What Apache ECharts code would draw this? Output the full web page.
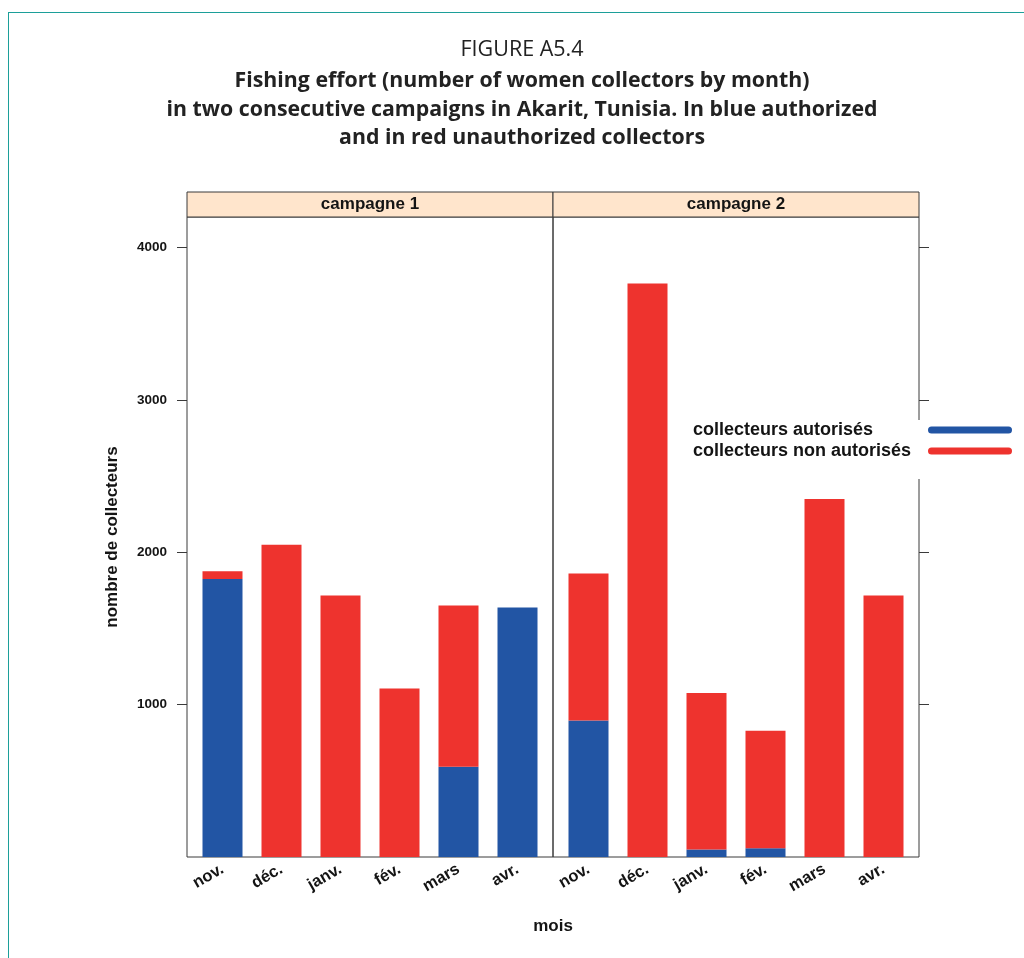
<!DOCTYPE html>
<html>
<head>
<meta charset="utf-8">
<title>Fishing effort – Akarit</title>
<script src="https://cdn.jsdelivr.net/npm/echarts@6/dist/echarts.min.js"></script>
<style>
  html, body { margin: 0; padding: 0; background: #fff; }
  #wrap { position: relative; width: 1024px; height: 958px; }
  #chart { position: absolute; left: 0; top: 0; width: 1024px; height: 958px; }
  /* page rule along the top and left edges */
  #rule { position: absolute; left: 8px; top: 12px; right: 0; bottom: 0;
          border-left: 1.5px solid #1c9f99; border-top: 1.5px solid #1c9f99;
          pointer-events: none; }
</style>
</head>
<body>
<div id="wrap">
  <div id="chart"></div>
  <div id="rule"></div>
</div>
<script>
// Monthly number of women collectors, two campaigns
const months = ['nov.', 'déc.', 'janv.', 'fév.', 'mars', 'avr.'];
const campaigns = ['campagne 1', 'campagne 2'];
const seriesNames = ['collecteurs autorisés', 'collecteurs non autorisés'];

const authorized1   = [1825,    0,    0,    0,  592, 1637];
const unauthorized1 = [  50, 2049, 1716, 1106, 1058,    0];
const authorized2   = [ 896,    0,   49,   58,    0,    0];
const unauthorized2 = [ 964, 3763, 1028,  770, 2350, 1716];

const yTicks = [1000, 2000, 3000, 4000];
const yMax = 4200;

const BLUE = '#2255A4';
const RED = '#EE332E';
const FONT = 'Liberation Sans';
const INK = '#141414';

// panel geometry (frame and inner category band)
const panelLeft = [187, 553];
const panelWidth = 366;
const innerInset = 6;
const plotTop = 217;
const plotHeight = 640;
const stripTop = 192;
const stripHeight = 25;

const grids = [];
const xAxes = [];
const yAxes = [];

// 0,1: panel frames carrying the y axes
panelLeft.forEach((l, i) => {
  grids.push({ left: l, top: plotTop, width: panelWidth, height: plotHeight,
               show: true, borderColor: '#3a3a3a', borderWidth: 1, backgroundColor: 'transparent' });
  xAxes.push({ gridIndex: grids.length - 1, type: 'value', min: 0, max: 1, show: false });
  yAxes.push({
    gridIndex: grids.length - 1, type: 'value', min: 0, max: yMax,
    position: i === 0 ? 'left' : 'right',
    axisLine: { show: false, onZero: false },
    splitLine: { show: false },
    axisTick: { show: true, inside: false, length: 10, customValues: yTicks,
                lineStyle: { color: '#3a3a3a', width: 1 } },
    axisLabel: { show: i === 0, customValues: yTicks, margin: 20,
                 formatter: (v) => String(v),
                 fontFamily: FONT, fontWeight: 'bold', fontSize: 13.5, color: INK },
    name: i === 0 ? 'nombre de collecteurs' : '',
    nameLocation: 'middle',
    nameGap: 66,
    nameTextStyle: { fontFamily: FONT, fontWeight: 'bold', fontSize: 17, color: INK }
  });
});

// 2,3: strips above the panels
panelLeft.forEach((l) => {
  grids.push({ left: l, top: stripTop, width: panelWidth, height: stripHeight,
               show: true, borderColor: '#3a3a3a', borderWidth: 1, backgroundColor: '#FFE5CC' });
  xAxes.push({ gridIndex: grids.length - 1, type: 'value', min: 0, max: 1, show: false });
  yAxes.push({ gridIndex: grids.length - 1, type: 'value', min: 0, max: 1, show: false });
});

// 4,5: bar areas
const dataGridStart = grids.length;
panelLeft.forEach((l) => {
  grids.push({ left: l + innerInset, top: plotTop, width: panelWidth - 2 * innerInset, height: plotHeight });
  xAxes.push({
    gridIndex: grids.length - 1, type: 'category', data: months, boundaryGap: true,
    axisLine: { show: false }, axisTick: { show: false },
    axisLabel: { rotate: 30, margin: 11, interval: 0,
                 fontFamily: FONT, fontWeight: 'bold', fontSize: 16.5, color: INK }
  });
  yAxes.push({ gridIndex: grids.length - 1, type: 'value', min: 0, max: yMax, show: false });
});

const panelData = [
  [authorized1, unauthorized1],
  [authorized2, unauthorized2]
];

const series = [];
panelData.forEach((pair, p) => {
  pair.forEach((values, k) => {
    series.push({
      name: seriesNames[k],
      type: 'bar',
      stack: 'panel' + p,
      xAxisIndex: dataGridStart + p,
      yAxisIndex: dataGridStart + p,
      barWidth: 40,
      itemStyle: { color: k === 0 ? BLUE : RED },
      emphasis: { disabled: true },
      data: values
    });
  });
});

const chart = echarts.init(document.getElementById('chart'), null, { renderer: 'canvas' });
chart.setOption({
  animation: false,
  backgroundColor: 'transparent',
  title: [
    {
      text: 'FIGURE A5.4',
      subtext: 'Fishing effort (number of women collectors by month)\n' +
               'in two consecutive campaigns in Akarit, Tunisia. In blue authorized\n' +
               'and in red unauthorized collectors',
      left: 522, top: 38, textAlign: 'center', padding: 0, itemGap: 5,
      textStyle: { fontFamily: 'Open Sans', fontWeight: 'normal', fontSize: 21.5, lineHeight: 24, color: '#222' },
      subtextStyle: { fontFamily: 'Open Sans', fontWeight: 'bold', fontSize: 21.3, lineHeight: 28.5, color: '#222' }
    },
    {
      text: campaigns[0], left: panelLeft[0] + panelWidth / 2, top: stripTop + 4, textAlign: 'center', padding: 0,
      textStyle: { fontFamily: FONT, fontWeight: 'bold', fontSize: 17, lineHeight: 17, color: INK }
    },
    {
      text: campaigns[1], left: panelLeft[1] + panelWidth / 2, top: stripTop + 4, textAlign: 'center', padding: 0,
      textStyle: { fontFamily: FONT, fontWeight: 'bold', fontSize: 17, lineHeight: 17, color: INK }
    },
    {
      text: 'mois', left: 553, top: 918, textAlign: 'center', padding: 0,
      textStyle: { fontFamily: FONT, fontWeight: 'bold', fontSize: 17, lineHeight: 17, color: INK }
    }
  ],
  legend: {
    data: seriesNames,
    orient: 'vertical',
    left: 685, top: 420,
    align: 'right',
    padding: [1, 12, 19, 8],
    backgroundColor: '#fff',
    itemWidth: 84, itemHeight: 7, itemGap: 3,
    icon: 'path://M3.5,0H80.5A3.5,3.5,0,0,1,80.5,7H3.5A3.5,3.5,0,0,1,3.5,0Z',
    selectedMode: false,
    formatter: (name) => '{t|' + name + '}',
    textStyle: {
      fontFamily: FONT, fontWeight: 'bold', fontSize: 18, color: INK,
      rich: { t: { width: 230, align: 'left', fontFamily: FONT, fontWeight: 'bold',
                   fontSize: 18, lineHeight: 17, color: INK } }
    }
  },
  grid: grids,
  xAxis: xAxes,
  yAxis: yAxes,
  series: series
});
</script>
</body>
</html>
